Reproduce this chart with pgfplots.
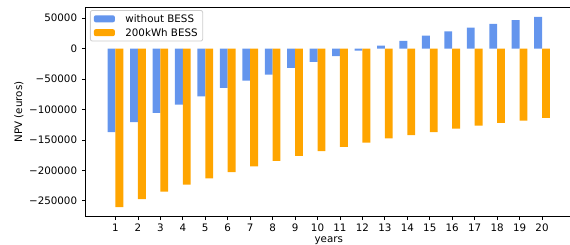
\documentclass[border=0pt]{standalone}
\usepackage{fontspec}
\setmainfont{DejaVu Sans}
\usepackage{pgfplots}
\pgfplotsset{compat=1.18}
\definecolor{cblue}{HTML}{6495ED}
\definecolor{corange}{HTML}{FFA500}
\begin{document}
\fontsize{10.3}{12}\selectfont
\begin{tikzpicture}
\useasboundingbox (-85.5pt,-28.3pt) rectangle (484.5pt,216.7pt);
\clip (-85.5pt,-28.3pt) rectangle (484.5pt,216.7pt);
\begin{axis}[
  at={(0pt,0pt)}, anchor=south west,
  scale only axis, width=486.5pt, height=209.4pt,
  xmin=-0.335, xmax=21.335, ymin=-276000, ymax=67700,
  axis line style={line width=0.8pt},
  xtick={1,...,20}, xtick pos=bottom, ytick pos=left,
  tick align=outside, major tick length=3.5pt,
  tick style={line width=0.8pt, black},
  ytick={-250000,-200000,-150000,-100000,-50000,0,50000},
  yticklabels={−250000,−200000,−150000,−100000,−50000,0,50000},
  scaled y ticks=false,
  /pgf/number format/assume math mode=true,
  x tick label style={inner sep=0pt, anchor=north, yshift=-3.5pt},
  y tick label style={inner sep=0pt, anchor=east, xshift=-4.7pt},
  xlabel={years}, ylabel={NPV (euros)},
  xlabel style={at={(axis description cs:0.5,-0.0969)}, anchor=north, inner sep=0pt},
  ylabel style={at={(axis description cs:-0.1367,0.5)}, anchor=center, inner sep=0pt},
  legend cell align=left,
  legend style={at={(axis description cs:0.00925,0.987)}, anchor=north west,
    draw=black!20, line width=0.8pt, rounded corners=2pt, fill=white, fill opacity=0.8, text opacity=1,
    inner xsep=3.5pt, inner ysep=3pt, row sep=3pt,
    nodes={inner sep=1.5pt, text depth=0pt},
    /tikz/every odd column/.append style={column sep=9pt}},
]
\addplot[ybar, bar width=0.35, bar shift=-0.175, fill=cblue, draw=none,
  legend image code/.code={\fill[cblue, fill opacity=1] (0pt,-3.5pt) rectangle (21pt,3.5pt);}]
  coordinates {
  (1,-137000) (2,-120600) (3,-105800) (4,-92100) (5,-78400)
  (6,-64700) (7,-52600) (8,-42800) (9,-31800) (10,-21900)
  (11,-12600) (12,-3300) (13,4900) (14,12600) (15,21400)
  (16,28000) (17,34500) (18,40600) (19,46500) (20,52100)};
\addlegendentry{without BESS}
\addplot[ybar, bar width=0.35, bar shift=0.175, fill=corange, draw=none,
  legend image code/.code={\fill[corange, fill opacity=1] (0pt,-3.5pt) rectangle (21pt,3.5pt);}]
  coordinates {
  (1,-260400) (2,-247200) (3,-234700) (4,-223200) (5,-213300)
  (6,-202900) (7,-193600) (8,-184200) (9,-176000) (10,-168300)
  (11,-161200) (12,-154600) (13,-147500) (14,-142000) (15,-137000)
  (16,-131600) (17,-126600) (18,-122000) (19,-118400) (20,-114000)};
\addlegendentry{200kWh BESS}
\end{axis}
\end{tikzpicture}
\end{document}
